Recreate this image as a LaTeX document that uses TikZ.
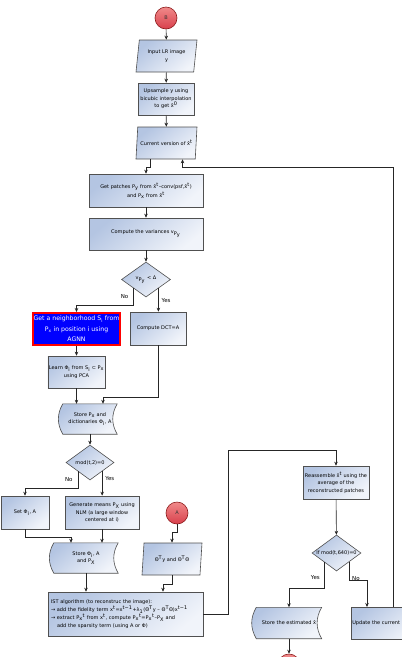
\documentclass[tikz,border=0pt]{standalone}
\usepackage{fontspec}
\setmainfont{DejaVu Sans}
\usetikzlibrary{shapes.geometric,arrows.meta,positioning,backgrounds}

\definecolor{boxdark}{HTML}{B4C5E2}
\definecolor{boxlight}{HTML}{F1F4FA}
\definecolor{edgegray}{HTML}{505050}
\definecolor{conred}{HTML}{D9404C}
\definecolor{conredlight}{HTML}{F08A8A}
\definecolor{condark}{HTML}{8B1A1A}

\newcommand{\subx}[1]{\textsubscript{#1}}
\newcommand{\supx}[1]{\textsuperscript{#1}}

\tikzset{
  every node/.style={font=\fontsize{5}{7.5}\selectfont, align=center},
  line/.style={draw=black!85, line width=0.6pt},
  flowbox/.style={rectangle, draw=edgegray, line width=0.6pt, top color=boxdark, bottom color=boxlight, shading angle=40, inner sep=1pt},
  iobox/.style={trapezium, trapezium left angle=77, trapezium right angle=103, trapezium stretches body, draw=edgegray, line width=0.6pt, top color=boxdark, bottom color=boxlight, shading angle=40, inner xsep=0pt, inner ysep=1pt, minimum height=32pt},
  storebox/.style={rectangle, inner sep=1pt},
  decision/.style={diamond, aspect=1.4, inner sep=0pt, draw=edgegray, line width=0.6pt, top color=boxdark, bottom color=boxlight, shading angle=40},
  termc/.style={circle, draw=condark, line width=0.6pt, top color=conredlight, bottom color=conred, minimum size=22pt, inner sep=0pt, text=black!80},
  lbl/.style={font=\fontsize{5.5}{6}\selectfont, inner sep=0pt}
}

\newcommand{\storeshape}[1]{%
  \begin{scope}[on background layer]
    \path[draw=edgegray, line width=0.6pt, top color=boxdark, bottom color=boxlight, shading angle=40]
      (#1.north west) to[bend right=30] (#1.south west) -- (#1.south east)
      to[bend left=30] (#1.north east) -- cycle;
  \end{scope}}

\begin{document}
\begin{tikzpicture}[x=1pt,y=-1pt,>={Stealth[length=4pt,width=3.5pt]}]
\useasboundingbox (0,0) rectangle (402,657);
\clip (0,0) rectangle (402,657);

% main column
\node[termc] (B) at (166,18) {B};
\node[iobox, minimum width=61pt] (inp) at (166.5,56) {Input LR image\\y};
\node[flowbox, minimum width=56pt, minimum height=32pt] (ups) at (166,99) {Upsample y using\\bicubic interpolation\\to get x̂\supx{0}};
\node[iobox, minimum width=61pt, inner xsep=-5pt] (cur) at (166.5,143) {Current version of x̂\supx{t}};
\node[flowbox, minimum width=114pt, minimum height=33pt] (getp) at (146,190.5) {Get patches P\subx{y} from x̂\supx{t}–conv(psf,x̂\supx{t})\\and P\subx{x} from x̂\supx{t}};
\node[flowbox, minimum width=114pt, minimum height=32pt] (var) at (146,234) {Compute the variances v\subx{P\subx{y}}};
\node[decision, minimum width=49pt, minimum height=35pt] (d1) at (146,279.5) {v\subx{P\subx{y}} < Δ};

% branches
\node[rectangle, draw=red, line width=2pt, fill=blue, text=white, font=\fontsize{6.2}{10.5}\selectfont, minimum width=87pt, minimum height=32pt, inner sep=1pt] (nbh) at (76.5,329) {Get a neighborhood S\subx{i} from\\P\subx{x} in position i using\\AGNN};
\node[flowbox, minimum width=56pt, minimum height=33pt] (dct) at (158,328.5) {Compute DCT=A};
\node[flowbox, minimum width=55pt, minimum height=32pt] (learn) at (76.5,372) {Learn Φ\subx{i} from S\subx{i} ⊂ P\subx{x}\\using PCA};
\node[storebox, minimum width=54pt, minimum height=30pt] (st1) at (90,419) {Store P\subx{x} and\\dictionaries Φ\subx{i}, A};
\storeshape{st1}
\node[decision, minimum width=48pt, minimum height=35pt] (d2) at (90,462.5) {mod(t,2)=0};
\node[flowbox, minimum width=48pt, minimum height=33pt] (set) at (25,512.5) {Set Φ\subx{i}, A};
\node[flowbox, minimum width=74pt, minimum height=33pt] (gen) at (102,512.5) {Generate means P\subx{X} using\\NLM (a large window\\centered at i)};
\node[termc] (A) at (177,513) {A};
\node[storebox, minimum width=64pt, minimum height=30pt] (st2) at (86,558) {Store Φ\subx{i}, A\\and P\subx{X}};
\storeshape{st2}
\node[iobox, minimum width=60pt] (dt) at (172,559) {Θ\supx{T}y and Θ\supx{T}Θ};
\node[flowbox, text width=149pt, align=left, inner xsep=3pt, minimum height=44pt, font=\fontsize{5}{8}\selectfont] (ist) at (125.5,614) {IST algorithm (to reconstruc the image):\\
→ add the fidelity term x\supx{t}=x\supx{t−1}+λ\subx{1}(Θ\supx{T}y – Θ\supx{T}Θ)x\supx{t−1}\\
→ extract P\subx{x}\supx{t} from x\supx{t}, compute P\subx{x}\supx{t}=P\subx{x}\supx{t}–P\subx{X} and\\
\hspace*{6pt}add the sparsity term (using A or Φ)};

% right column
\node[flowbox, minimum width=66pt, minimum height=33pt] (reas) at (336,482.5) {Reassemble x̂\supx{t} using the\\average of the\\reconstructed patches};
\node[decision, minimum width=49pt, minimum height=36pt, label=center:{If mod(t,640)=0}] (d3) at (336.5,553) {};
\node[storebox, minimum width=65pt, minimum height=31pt] (st3) at (289,623) {Store the estimated x̂};
\storeshape{st3}
\node[flowbox, anchor=north west, minimum height=32pt, text width=64pt, align=left, inner xsep=1pt] (upd) at (351,607) {Update the current};
\node[termc] (C) at (289,665) {};

% connectors
\draw[line,->] (B) -- (inp);
\draw[line,->] (inp) -- (ups);
\draw[line,->] (ups) -- (cur);
\draw[line,->] ([xshift=-16pt]cur.south) -- ++(0,8) -| (getp.north);
\draw[line,->] (getp) -- (var);
\draw[line,->] (var) -- (d1);
\draw[line,->] (d1.south west) -- node[lbl,left=5pt]{No} ++(0,17) -| (nbh.north);
\draw[line,->] (d1.south east) -- node[lbl,right=3pt]{Yes} (d1.south east |- dct.north);
\draw[line,->] (nbh) -- (learn);
\draw[line,->] (learn.south) -- (learn.south |- st1.north);
\draw[line,->] (dct.south) -- ++(0,52) -| ([xshift=13pt]st1.north);
\draw[line,->] (st1) -- (d2);
\draw[line,->] (d2.south west) -- node[lbl,left=5pt]{No} ++(0,17) -| (set.north);
\draw[line,->] (d2.south east) -- node[lbl,right=3pt,pos=0.3]{Yes} (d2.south east |- gen.north);
\draw[line,->] (set.south) -- ++(0,8) -| ([xshift=-15pt]st2.north);
\draw[line,->] (gen.south) -- (gen.south |- st2.north);
\draw[line,->] (A.south) -- ++(0,8) -| (dt.north);
\draw[line,->] (dt.south) -- ++(0,9) -| ([xshift=37.5pt]ist.north);
\draw[line,->] (st2.south) -- (st2.south |- ist.north);
\draw[line,->] (ist.east) -- ++(25,0) |- ([yshift=15pt]reas.north) -- (reas.north);
\draw[line,->] (reas) -- (d3);
\draw[line,->] (d3.south west) -- node[lbl,left=4pt,pos=0.6]{Yes} ++(0,26) -| (st3.north);
\draw[line,->] (d3.south east) -- node[lbl,right=3pt,pos=0.9]{No} ++(0,18) -| ([xshift=16pt]upd.north west);
\draw[line,->] (st3.south) -- (C);
\draw[line,->] ([xshift=42pt]upd.north west) |- ([xshift=16pt,yshift=-8pt]cur.south) -- ([xshift=16pt]cur.south);
\end{tikzpicture}
\end{document}
